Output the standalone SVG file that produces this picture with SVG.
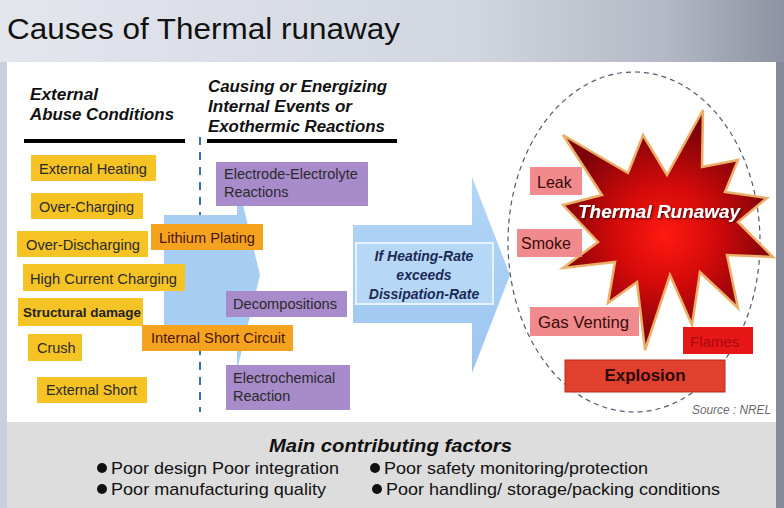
<svg xmlns="http://www.w3.org/2000/svg" width="784" height="508" viewBox="0 0 784 508">
<defs>
<linearGradient id="bg" x1="0" y1="0" x2="1" y2="0">
<stop offset="0" stop-color="#e3e6ed"/>
<stop offset="0.6" stop-color="#d2d6df"/>
<stop offset="0.85" stop-color="#b3b8c4"/>
<stop offset="1" stop-color="#8d93a2"/>
</linearGradient>
<radialGradient id="star" cx="665" cy="235" r="110" gradientUnits="userSpaceOnUse">
<stop offset="0" stop-color="#ff1a10"/>
<stop offset="0.45" stop-color="#d40a0a"/>
<stop offset="1" stop-color="#7c0308"/>
</radialGradient>
<linearGradient id="arr" x1="0" y1="0" x2="0" y2="1">
<stop offset="0" stop-color="#b4d6f7"/>
<stop offset="1" stop-color="#9cc6f0"/>
</linearGradient>
<filter id="sh" x="-10%" y="-30%" width="120%" height="160%">
<feDropShadow dx="1" dy="1" stdDeviation="0.8" flood-color="#300" flood-opacity="0.9"/>
</filter>
</defs>
<style>
text{font-family:"Liberation Sans",Arial,sans-serif}
.y{fill:#f6c325}
.o{fill:#f5a31f}
.p{fill:#a88bca}
.pk{fill:#f08a8c}
.t{font-size:14.5px;fill:#2a2a2a}
.to{font-size:14.5px;fill:#4a1508}
.hd{font-size:16px;font-weight:bold;font-style:italic;fill:#111}
.rt{font-size:16px;fill:#3a0a0a}
.bl{font-size:17px;fill:#111}
</style>
<rect x="0" y="0" width="784" height="508" fill="url(#bg)"/>
<rect x="0" y="62" width="7" height="446" fill="#c9d0dc"/>
<rect x="776" y="62" width="8" height="446" fill="#858b9a"/>
<rect x="7" y="62" width="769" height="360" fill="#ffffff"/>
<rect x="7" y="422" width="769" height="86" fill="#dddddd"/>
<text x="7" y="39" font-size="30" fill="#111" textLength="393" lengthAdjust="spacingAndGlyphs">Causes of Thermal runaway</text>

<g id="headers">
<text class="hd" x="30" y="100" textLength="68" lengthAdjust="spacingAndGlyphs">External</text>
<text class="hd" x="30" y="120" textLength="144" lengthAdjust="spacingAndGlyphs">Abuse Conditions</text>
<text class="hd" x="208" y="92" textLength="179" lengthAdjust="spacingAndGlyphs">Causing or Energizing</text>
<text class="hd" x="208" y="112" textLength="144" lengthAdjust="spacingAndGlyphs">Internal Events or</text>
<text class="hd" x="208" y="132" textLength="177" lengthAdjust="spacingAndGlyphs">Exothermic Reactions</text>
<rect x="24" y="139" width="161" height="4" fill="#000"/>
<rect x="207" y="139" width="190" height="4" fill="#000"/>
<line x1="200" y1="137" x2="200" y2="412" stroke="#3d6cb5" stroke-width="2" stroke-dasharray="8,7"/>
</g>

<g id="connectors">
<polygon points="164,215 237,215 237,180 260,275 237,370 237,335 164,335" fill="#a8cdf2"/>
<polygon points="353,225 472,225 472,177 510,275 472,373 472,323 353,323" fill="url(#arr)"/>
</g>

<g id="condition-box">
<rect x="356" y="243" width="137" height="61" fill="#b6d7f6" stroke="#e6f2fc" stroke-width="2"/>
<text x="424" y="261" text-anchor="middle" font-size="14" font-weight="bold" font-style="italic" fill="#1b2a55">If Heating-Rate</text>
<text x="424" y="280" text-anchor="middle" font-size="14" font-weight="bold" font-style="italic" fill="#1b2a55">exceeds</text>
<text x="424" y="299" text-anchor="middle" font-size="14" font-weight="bold" font-style="italic" fill="#1b2a55">Dissipation-Rate</text>
</g>

<g id="ext-heating"><rect class="y" x="31" y="155" width="125" height="26"/><text class="t" x="39" y="174" textLength="108" lengthAdjust="spacingAndGlyphs">External Heating</text></g>
<g id="over-charging"><rect class="y" x="31" y="193" width="112" height="26"/><text class="t" x="39" y="212">Over-Charging</text></g>
<g id="over-discharging"><rect class="y" x="17" y="231" width="131" height="26"/><text class="t" x="26" y="250" textLength="114" lengthAdjust="spacingAndGlyphs">Over-Discharging</text></g>
<g id="high-current"><rect class="y" x="23" y="264" width="162" height="27"/><text class="t" x="30" y="284" textLength="147" lengthAdjust="spacingAndGlyphs">High Current Charging</text></g>
<g id="structural"><rect class="y" x="18" y="298" width="125" height="28"/><text x="23" y="317" font-size="13.5" font-weight="bold" fill="#222" textLength="118" lengthAdjust="spacingAndGlyphs">Structural damage</text></g>
<g id="crush"><rect class="y" x="28" y="334" width="54" height="27"/><text class="t" x="37" y="353">Crush</text></g>
<g id="ext-short"><rect class="y" x="37" y="377" width="110" height="26"/><text class="t" x="46" y="395" textLength="91" lengthAdjust="spacingAndGlyphs">External Short</text></g>

<g id="lithium-plating"><rect class="o" x="151" y="224" width="112" height="26"/><text class="to" x="159" y="243" textLength="96" lengthAdjust="spacingAndGlyphs">Lithium Plating</text></g>
<g id="internal-short"><rect class="o" x="142" y="325" width="151" height="26"/><text class="to" x="151" y="343" textLength="134" lengthAdjust="spacingAndGlyphs">Internal Short Circuit</text></g>

<g id="electrode"><rect class="p" x="216" y="162" width="152" height="44"/><text class="t" x="224" y="179">Electrode-Electrolyte</text><text class="t" x="224" y="197">Reactions</text></g>
<g id="decompositions"><rect class="p" x="226" y="291" width="121" height="26"/><text class="t" x="233" y="309" textLength="104" lengthAdjust="spacingAndGlyphs">Decompositions</text></g>
<g id="electrochemical"><rect class="p" x="226" y="365" width="124" height="45"/><text class="t" x="233" y="383">Electrochemical</text><text class="t" x="233" y="401">Reaction</text></g>

<g id="outcome-region">
<ellipse cx="634" cy="242" rx="126" ry="170" fill="none" stroke="#4f5a70" stroke-width="1.2" stroke-dasharray="5,4"/>
</g>

<g id="thermal-runaway">
<polygon points="563,135 628,173 643,135 667,175 703,110 702,167 738,160 725,192 767,198 738,222 773,257 727,255 738,308 700,272 692,325 670,275 645,350 637,282 608,303 615,262 563,268 598,242 563,205 602,195" fill="url(#star)" stroke="#eab06a" stroke-width="2.5" stroke-linejoin="miter"/>
<text x="578" y="218" font-size="18" font-weight="bold" font-style="italic" fill="#ffffff" filter="url(#sh)" textLength="162" lengthAdjust="spacingAndGlyphs">Thermal Runaway</text>
</g>

<g id="leak"><rect class="pk" x="530" y="167" width="52" height="28"/><text class="rt" x="537" y="188">Leak</text></g>
<g id="smoke"><rect class="pk" x="517" y="229" width="65" height="28"/><text class="rt" x="521" y="249">Smoke</text></g>
<g id="gas-venting"><rect class="pk" x="530" y="307" width="109" height="29"/><text class="rt" x="538" y="328" textLength="91" lengthAdjust="spacingAndGlyphs">Gas Venting</text></g>
<g id="flames"><rect x="683" y="327" width="70" height="27" fill="#e81717"/><text x="690" y="347" font-size="15" fill="#a60c0c">Flames</text></g>
<g id="explosion"><rect x="565" y="360" width="160" height="32" fill="#e0412f" stroke="#b72a1e" stroke-width="1"/><text x="645" y="381" text-anchor="middle" font-size="17" font-weight="bold" fill="#2a0808">Explosion</text></g>

<text x="692" y="414" font-size="12.5" font-style="italic" fill="#6a6a6a" textLength="79" lengthAdjust="spacingAndGlyphs">Source : NREL</text>

<g id="factors">
<text x="269" y="452" font-size="19" font-weight="bold" font-style="italic" fill="#111" textLength="243" lengthAdjust="spacingAndGlyphs">Main contributing factors</text>
<circle cx="102" cy="468" r="5" fill="#111"/>
<text class="bl" x="111" y="474" textLength="228" lengthAdjust="spacingAndGlyphs">Poor design Poor integration</text>
<circle cx="102" cy="489" r="5" fill="#111"/>
<text class="bl" x="111" y="495" textLength="215" lengthAdjust="spacingAndGlyphs">Poor manufacturing quality</text>
<circle cx="375" cy="468" r="5" fill="#111"/>
<text class="bl" x="384" y="474" textLength="264" lengthAdjust="spacingAndGlyphs">Poor safety monitoring/protection</text>
<circle cx="377" cy="489" r="5" fill="#111"/>
<text class="bl" x="386" y="495" textLength="334" lengthAdjust="spacingAndGlyphs">Poor handling/ storage/packing conditions</text>
</g>
</svg>
